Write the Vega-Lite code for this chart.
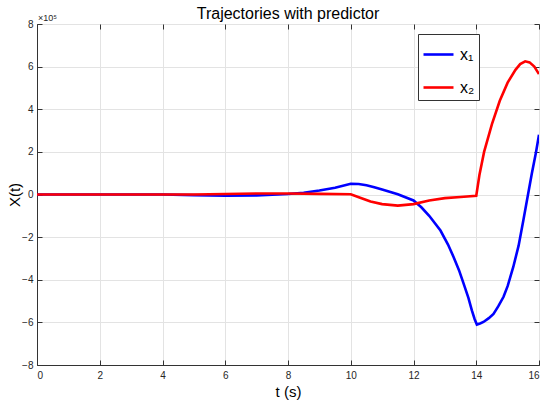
{
  "$schema": "https://vega.github.io/schema/vega-lite/v6.json",
  "width": 502,
  "height": 341,
  "autosize": "none",
  "padding": {"left": 37, "top": 24, "right": 11, "bottom": 43},
  "background": "white",
  "title": {
    "text": "Trajectories with predictor",
    "font": "Liberation Sans",
    "fontSize": 16,
    "fontWeight": "normal",
    "color": "#000000",
    "offset": 4,
    "dy": 12
  },
  "config": {
    "view": {"stroke": "#333333", "strokeWidth": 1},
    "axis": {
      "labelFont": "Liberation Sans",
      "labelFontSize": 10,
      "labelColor": "#262626",
      "titleFont": "Liberation Sans",
      "titleFontSize": 15,
      "titleFontWeight": "normal",
      "titleColor": "#000000",
      "domainColor": "#333333",
      "tickColor": "#333333",
      "tickSize": -5,
      "gridColor": "#e3e3e3",
      "gridWidth": 1
    }
  },
  "layer": [
    {
      "data": {
        "values": [
          {"t": 0, "v": 0, "s": "x₁"},
          {"t": 2, "v": 0, "s": "x₁"},
          {"t": 4, "v": 0, "s": "x₁"},
          {"t": 5, "v": -3000, "s": "x₁"},
          {"t": 6, "v": -6000, "s": "x₁"},
          {"t": 7, "v": -4000, "s": "x₁"},
          {"t": 8, "v": 2000, "s": "x₁"},
          {"t": 8.5, "v": 8000, "s": "x₁"},
          {"t": 9, "v": 19000, "s": "x₁"},
          {"t": 9.5, "v": 32000, "s": "x₁"},
          {"t": 10, "v": 50000, "s": "x₁"},
          {"t": 10.25, "v": 49000, "s": "x₁"},
          {"t": 10.5, "v": 43000, "s": "x₁"},
          {"t": 10.75, "v": 34000, "s": "x₁"},
          {"t": 11, "v": 23000, "s": "x₁"},
          {"t": 11.5, "v": 1000, "s": "x₁"},
          {"t": 12, "v": -28000, "s": "x₁"},
          {"t": 12.25, "v": -60000, "s": "x₁"},
          {"t": 12.5, "v": -100000, "s": "x₁"},
          {"t": 12.86, "v": -169000, "s": "x₁"},
          {"t": 13.1, "v": -235000, "s": "x₁"},
          {"t": 13.28, "v": -294000, "s": "x₁"},
          {"t": 13.45, "v": -355000, "s": "x₁"},
          {"t": 13.6, "v": -419000, "s": "x₁"},
          {"t": 13.75, "v": -485000, "s": "x₁"},
          {"t": 13.86, "v": -544000, "s": "x₁"},
          {"t": 13.95, "v": -585000, "s": "x₁"},
          {"t": 14.02, "v": -610000, "s": "x₁"},
          {"t": 14.12, "v": -605000, "s": "x₁"},
          {"t": 14.23, "v": -598000, "s": "x₁"},
          {"t": 14.4, "v": -580000, "s": "x₁"},
          {"t": 14.55, "v": -560000, "s": "x₁"},
          {"t": 14.7, "v": -525000, "s": "x₁"},
          {"t": 14.87, "v": -480000, "s": "x₁"},
          {"t": 15, "v": -430000, "s": "x₁"},
          {"t": 15.18, "v": -340000, "s": "x₁"},
          {"t": 15.35, "v": -240000, "s": "x₁"},
          {"t": 15.5, "v": -122000, "s": "x₁"},
          {"t": 15.65, "v": 0, "s": "x₁"},
          {"t": 15.77, "v": 97000, "s": "x₁"},
          {"t": 15.9, "v": 195000, "s": "x₁"},
          {"t": 16, "v": 280000, "s": "x₁"},
          {"t": 0, "v": 0, "s": "x₂"},
          {"t": 5, "v": 0, "s": "x₂"},
          {"t": 6, "v": 2000, "s": "x₂"},
          {"t": 7, "v": 5000, "s": "x₂"},
          {"t": 8, "v": 5000, "s": "x₂"},
          {"t": 9, "v": 3000, "s": "x₂"},
          {"t": 10, "v": 1000, "s": "x₂"},
          {"t": 10.3, "v": -15000, "s": "x₂"},
          {"t": 10.63, "v": -33000, "s": "x₂"},
          {"t": 11, "v": -45000, "s": "x₂"},
          {"t": 11.5, "v": -52000, "s": "x₂"},
          {"t": 12, "v": -45000, "s": "x₂"},
          {"t": 12.5, "v": -28000, "s": "x₂"},
          {"t": 13, "v": -17000, "s": "x₂"},
          {"t": 13.5, "v": -12000, "s": "x₂"},
          {"t": 14, "v": -6000, "s": "x₂"},
          {"t": 14.1, "v": 90000, "s": "x₂"},
          {"t": 14.25, "v": 200000, "s": "x₂"},
          {"t": 14.5, "v": 330000, "s": "x₂"},
          {"t": 14.75, "v": 440000, "s": "x₂"},
          {"t": 15, "v": 525000, "s": "x₂"},
          {"t": 15.25, "v": 585000, "s": "x₂"},
          {"t": 15.4, "v": 612000, "s": "x₂"},
          {"t": 15.56, "v": 625000, "s": "x₂"},
          {"t": 15.7, "v": 620000, "s": "x₂"},
          {"t": 15.85, "v": 600000, "s": "x₂"},
          {"t": 16, "v": 565000, "s": "x₂"}
        ]
      },
      "mark": {"type": "line", "strokeWidth": 2.6, "clip": true},
      "encoding": {
        "x": {
          "field": "t",
          "type": "quantitative",
          "scale": {"domain": [0, 16], "nice": false, "zero": false},
          "axis": {
            "orient": "bottom",
            "title": "t (s)",
            "values": [0, 2, 4, 6, 8, 10, 12, 14, 16],
            "labelPadding": 10,
            "titlePadding": 4,
            "grid": true
          }
        },
        "y": {
          "field": "v",
          "type": "quantitative",
          "scale": {"domain": [-800000, 800000], "nice": false},
          "axis": {
            "orient": "left",
            "title": "X(t)",
            "values": [-800000, -600000, -400000, -200000, 0, 200000, 400000, 600000, 800000],
            "labelExpr": "format(datum.value / 100000, 'd')",
            "labelPadding": 9,
            "titlePadding": -1,
            "grid": true
          }
        },
        "color": {
          "field": "s",
          "type": "nominal",
          "scale": {"domain": ["x₁", "x₂"], "range": ["#0000ff", "#ff0000"]},
          "legend": {
            "title": null,
            "orient": "none",
            "legendX": 381,
            "legendY": 10,
            "strokeColor": "#333333",
            "fillColor": "#ffffff",
            "padding": 4,
            "rowPadding": 8,
            "symbolType": "stroke",
            "symbolSize": 900,
            "symbolStrokeWidth": 2.6,
            "labelFont": "Liberation Sans",
            "labelFontSize": 16,
            "labelColor": "#000000",
            "labelOffset": 5
          }
        }
      }
    },
    {
      "data": {"values": [{"t": 0, "v": 800000, "lab": "×10⁵"}]},
      "mark": {
        "type": "text",
        "align": "left",
        "baseline": "alphabetic",
        "dx": 1,
        "dy": -3,
        "font": "Liberation Sans",
        "fontSize": 9,
        "color": "#262626"
      },
      "encoding": {
        "x": {
          "field": "t",
          "type": "quantitative",
          "axis": {
            "orient": "top",
            "title": null,
            "labels": false,
            "grid": false,
            "domain": false,
            "values": [0, 2, 4, 6, 8, 10, 12, 14, 16]
          }
        },
        "y": {
          "field": "v",
          "type": "quantitative",
          "axis": {
            "orient": "right",
            "title": null,
            "labels": false,
            "grid": false,
            "domain": false,
            "values": [-800000, -600000, -400000, -200000, 0, 200000, 400000, 600000, 800000]
          }
        },
        "text": {"field": "lab"}
      }
    }
  ],
  "resolve": {"axis": {"x": "independent", "y": "independent"}}
}
